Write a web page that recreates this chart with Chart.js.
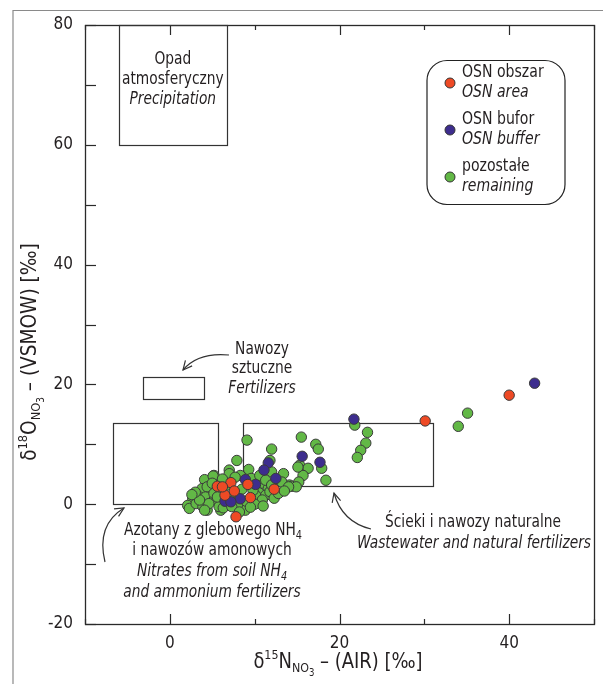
<!DOCTYPE html>
<html><head><meta charset="utf-8">
<script src="https://cdn.jsdelivr.net/npm/chart.js@4.4.1/dist/chart.umd.min.js"></script>
<style>html,body{margin:0;padding:0;background:#fff}#wrap{width:603px;height:684px;position:relative}</style>
</head><body><div id="wrap"><canvas id="c" width="603" height="684"></canvas></div>
<script>
// ---------- DATA ----------
const osnAreaX = [40.0, 30.1, 5.6, 7.2, 9.2, 6.5, 7.6, 9.5, 7.8, 12.3, 6.2];
const osnAreaY = [18.2, 13.9, 3.0, 3.6, 3.3, 1.5, 2.2, 1.1, -2.1, 2.5, 2.9];

const osnBufferX = [43.0, 21.7, 15.6, 17.7, 11.6, 11.1, 12.5, 8.9, 10.1, 8.3, 6.5, 7.2];
const osnBufferY = [20.2, 14.2, 8.0, 7.0, 6.9, 5.7, 4.3, 4.1, 3.3, 0.9, 0.5, 0.4];

const remainingX = [35.1, 34.0, 21.8, 23.3, 23.1, 22.5, 22.1,
  15.5, 17.2, 17.5, 15.3, 15.8, 16.3, 15.7, 17.9, 18.4,
  14.1, 14.4, 15.1, 15.2, 14.9,
  9.1, 12.0, 7.9, 11.8, 9.3, 13.4, 12.0, 7.0, 8.3, 5.2, 7.0, 13.2, 14.0,
  10.9, 11.6, 10.5, 11.3, 10.1, 11.8, 10.9, 8.9, 6.0, 6.6, 7.4,
  4.1, 5.1, 3.8, 4.8, 4.4, 2.7, 2.1, 2.3, 3.1, 3.9, 4.4, 3.5, 4.2, 5.2, 5.8, 4.6, 5.2, 3.5, 4.1,
  6.0, 7.0, 8.0, 9.0, 10.0, 8.5, 9.8, 6.8, 5.6, 6.3, 7.3, 8.2, 9.5, 11.0, 12.3, 12.8, 13.5,
  3.0, 2.6, 5.0, 6.2, 7.7, 9.6, 10.6, 11.3, 12.0];
const remainingY = [15.2, 13.0, 13.2, 12.0, 10.2, 9.0, 7.8,
  11.2, 10.0, 9.2, 6.5, 5.6, 6.0, 4.8, 6.0, 4.0,
  3.2, 3.0, 6.2, 3.7, 2.9,
  10.7, 9.2, 7.3, 7.3, 5.8, 5.1, 5.4, 5.7, 4.8, 4.8, 5.1, 3.7, 2.9,
  3.5, 2.6, 1.9, 1.5, 1.5, 2.1, 0.7, -1.0, -1.0, 0.1, 0.7,
  4.1, 4.7, 2.6, 2.5, 2.9, 0.8, -0.2, -0.7, 0.1, -0.4, -1.0, 1.2, 1.2, 0.7, -0.4, 0.1, 1.8, 0.7, -1.0,
  2.0, 1.0, 0.0, 0.5, 0.0, 2.5, 2.3, 3.2, 1.2, -0.6, -0.4, -1.3, -0.5, -0.3, 1.0, 1.8, 2.2,
  2.0, 1.6, 3.5, 4.2, 4.5, 4.3, 4.8, 4.0, 3.2];

const xTickLabels = [0, 20, 40];
const yTickLabels = [-20, 0, 20, 40, 60, 80];

// source boxes in data units: [xMin, xMax, yMin, yMax]
const precipitationBox = [-6.0, 6.7, 60, 80];
const fertilizerBox = [-3.2, 4.0, 17.5, 21.2];
const soilNH4Box = [-6.7, 5.7, 0, 13.5];
const wastewaterBox = [8.6, 31.0, 3.0, 13.5];

const seriesNames = [["OSN obszar", "OSN area"], ["OSN bufor", "OSN buffer"], ["pozostałe", "remaining"]];
const seriesColors = ["#ee4a25", "#3d2d8e", "#62b846"];

// ---------- DRAWING ----------
const FONT = "'Liberation Sans Narrow','DejaVu Sans Condensed',Roboto,sans-serif";
const INK = "#231f20";
const toPts = (xs, ys) => xs.map((x, i) => ({x, y: ys[i]}));

function rich(ctx, segs, x, y, align, sx) {
  sx = sx || 1;
  let w = 0;
  segs.forEach(s => { ctx.font = (s.it ? "italic " : "") + s.size + "px " + FONT; s.w = ctx.measureText(s.t).width * sx; w += s.w; });
  let cx = align === "center" ? x - w / 2 : x;
  segs.forEach(s => {
    ctx.font = (s.it ? "italic " : "") + s.size + "px " + FONT;
    ctx.save(); ctx.translate(cx, y + (s.dy || 0)); ctx.scale(sx, 1); ctx.fillText(s.t, 0, 0); ctx.restore();
    cx += s.w;
  });
}
function arrow(ctx, x0, y0, cx, cy, x1, y1) {
  ctx.beginPath(); ctx.moveTo(x0, y0); ctx.quadraticCurveTo(cx, cy, x1, y1); ctx.stroke();
  const a = Math.atan2(y1 - cy, x1 - cx), L = 10, s = 0.45;
  ctx.beginPath();
  ctx.moveTo(x1 - L * Math.cos(a - s), y1 - L * Math.sin(a - s));
  ctx.lineTo(x1, y1);
  ctx.lineTo(x1 - L * Math.cos(a + s), y1 - L * Math.sin(a + s));
  ctx.stroke();
}

const deco = {
  id: "deco",
  beforeDatasetsDraw(chart) {
    const {ctx, chartArea: a, scales: {x, y}} = chart;
    ctx.save();
    // outer frame (left and top)
    ctx.strokeStyle = "#8a8a8a"; ctx.lineWidth = 1.2;
    ctx.beginPath(); ctx.moveTo(13, 684); ctx.lineTo(13, 10.5); ctx.lineTo(603, 10.5); ctx.stroke();
    // plot border
    ctx.strokeStyle = "#2a2a2a"; ctx.lineWidth = 1.3;
    ctx.strokeRect(Math.round(a.left) + 0.5, Math.round(a.top) + 0.5, Math.round(a.right - a.left), Math.round(a.bottom - a.top));
    // inward ticks
    ctx.lineWidth = 1.2;
    x.ticks.forEach(t => {
      const px = Math.round(x.getPixelForValue(t.value)) + 0.5;
      const L = xTickLabels.includes(t.value) ? 10 : 5;
      ctx.beginPath(); ctx.moveTo(px, a.bottom); ctx.lineTo(px, a.bottom - L);
      ctx.moveTo(px, a.top); ctx.lineTo(px, a.top + L); ctx.stroke();
    });
    y.ticks.forEach(t => {
      const py = Math.round(y.getPixelForValue(t.value)) + 0.5;
      ctx.beginPath(); ctx.moveTo(a.left, py); ctx.lineTo(a.left + 11, py); ctx.stroke();
    });
    // source boxes
    ctx.strokeStyle = "#333"; ctx.lineWidth = 1.2;
    [precipitationBox, fertilizerBox, soilNH4Box, wastewaterBox].forEach(b => {
      const l = x.getPixelForValue(b[0]), r = x.getPixelForValue(b[1]);
      const t = y.getPixelForValue(b[3]), bt = y.getPixelForValue(b[2]);
      ctx.strokeRect(Math.round(l) + 0.5, Math.round(t) + 0.5, Math.round(r - l), Math.round(bt - t));
    });
    // annotation texts
    const K = 0.9;
    ctx.fillStyle = INK; ctx.textBaseline = "middle"; ctx.textAlign = "left";
    const px = (v) => x.getPixelForValue(v);
    const pcx = (px(precipitationBox[0]) + px(precipitationBox[1])) / 2;
    rich(ctx, [{t: "Opad", size: 17}], pcx, 60, "center", K);
    rich(ctx, [{t: "atmosferyczny", size: 17}], pcx, 80, "center", K);
    rich(ctx, [{t: "Precipitation", size: 17, it: true}], pcx, 100, "center", K);

    rich(ctx, [{t: "Nawozy", size: 17}], 262, 350, "center", K);
    rich(ctx, [{t: "sztuczne", size: 17}], 262, 369, "center", K);
    rich(ctx, [{t: "Fertilizers", size: 17, it: true}], 262, 389, "center", K);

    rich(ctx, [{t: "Azotany z glebowego NH", size: 17}, {t: "4", size: 12, dy: 5}], 213, 531, "center", K);
    rich(ctx, [{t: "i nawozów amonowych", size: 17}], 212, 551, "center", K);
    rich(ctx, [{t: "Nitrates from soil NH", size: 17, it: true}, {t: "4", size: 12, dy: 5, it: true}], 212, 572, "center", K);
    rich(ctx, [{t: "and ammonium fertilizers", size: 17, it: true}], 212, 593, "center", K);

    rich(ctx, [{t: "Ścieki i nawozy naturalne", size: 17}], 473, 523, "center", K);
    rich(ctx, [{t: "Wastewater and natural fertilizers", size: 17, it: true}], 474, 544, "center", K);

    // arrows
    ctx.strokeStyle = "#333"; ctx.lineWidth = 1.2;
    arrow(ctx, 229, 355, 198, 352, 183, 370);
    arrow(ctx, 105, 562, 96, 525, 124, 508);
    arrow(ctx, 371, 529, 342, 522, 334, 493);

    // axis titles
    rich(ctx, [{t: "δ", size: 21}, {t: "15", size: 13, dy: -7}, {t: "N", size: 21}, {t: "NO", size: 13, dy: 6}, {t: "3", size: 10, dy: 10},
               {t: " – (AIR) [‰]", size: 21}], 338, 663, "center", 0.95);
    ctx.save(); ctx.translate(31, 352); ctx.rotate(-Math.PI / 2);
    rich(ctx, [{t: "δ", size: 21}, {t: "18", size: 13, dy: -7}, {t: "O", size: 21}, {t: "NO", size: 13, dy: 6}, {t: "3", size: 10, dy: 10},
               {t: " – (VSMOW) [‰]", size: 21}], 0, 0, "center", 0.98);
    ctx.restore();

    // legend box
    const lx = 427, ly = 60.5, lw = 138, lh = 144, rr = 20;
    ctx.strokeStyle = "#222"; ctx.lineWidth = 1.2;
    ctx.beginPath();
    ctx.moveTo(lx + rr, ly); ctx.arcTo(lx + lw, ly, lx + lw, ly + lh, rr); ctx.arcTo(lx + lw, ly + lh, lx, ly + lh, rr);
    ctx.arcTo(lx, ly + lh, lx, ly, rr); ctx.arcTo(lx, ly, lx + lw, ly, rr); ctx.closePath(); ctx.stroke();
    seriesNames.forEach((n, i) => {
      const cy = 83 + i * 47;
      ctx.beginPath(); ctx.arc(450, cy, 5, 0, Math.PI * 2);
      ctx.fillStyle = seriesColors[i]; ctx.fill(); ctx.strokeStyle = "#333"; ctx.lineWidth = 1; ctx.stroke();
      ctx.fillStyle = INK;
      rich(ctx, [{t: n[0], size: 17}], 462, cy - 10, "left", 0.92);
      rich(ctx, [{t: n[1], size: 17, it: true}], 462, cy + 10, "left", 0.92);
    });
    ctx.restore();
  }
};

const mk = (label, xs, ys, color, order) => ({
  label, data: toPts(xs, ys), backgroundColor: color, borderColor: "#3a3a3a", borderWidth: 1,
  pointRadius: 5.2, pointHoverRadius: 5.2, order
});

new Chart(document.getElementById("c"), {
  type: "scatter",
  data: {
    datasets: [
      mk("OSN obszar / OSN area", osnAreaX, osnAreaY, seriesColors[0], 1),
      mk("OSN bufor / OSN buffer", osnBufferX, osnBufferY, seriesColors[1], 2),
      mk("pozostałe / remaining", remainingX, remainingY, seriesColors[2], 3)
    ]
  },
  options: {
    responsive: false, animation: false, devicePixelRatio: 1,
    layout: {padding: {left: 13, right: 5, top: 25, bottom: 0}},
    plugins: {legend: {display: false}, tooltip: {enabled: false}},
    scales: {
      x: {
        type: "linear", min: -10, max: 50,
        grid: {display: false, drawTicks: false}, border: {display: false},
        afterFit: s => { s.height = 60; },
        ticks: {stepSize: 10, autoSkip: false, maxRotation: 0, padding: 9, color: INK,
          font: {family: FONT, size: 17},
          callback: v => xTickLabels.includes(v) ? String(v) : ""}
      },
      y: {
        type: "linear", min: -20, max: 80,
        grid: {display: false, drawTicks: false}, border: {display: false},
        afterFit: s => { s.width = 72; },
        ticks: {stepSize: 10, autoSkip: false, padding: 12, color: INK,
          font: {family: FONT, size: 17},
          callback: v => yTickLabels.includes(v) ? String(v) : ""}
      }
    }
  },
  plugins: [deco]
});
</script></body></html>
